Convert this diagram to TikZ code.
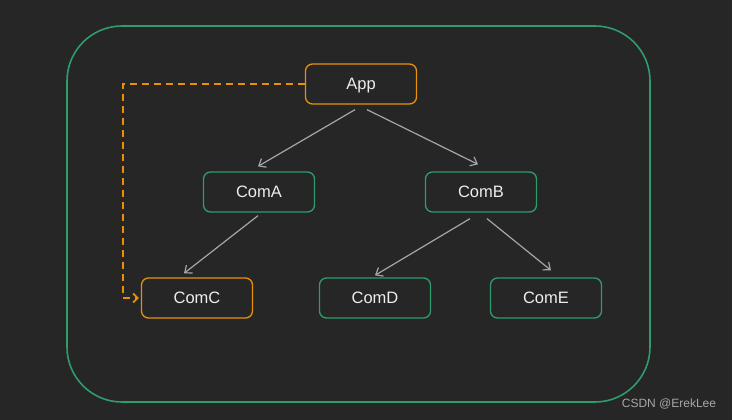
\documentclass[tikz,border=0pt]{standalone}
\usepackage{fontspec}
\setmainfont{Liberation Sans}
\usetikzlibrary{arrows.meta,calc}
\definecolor{bgc}{HTML}{262626}
\definecolor{grn}{HTML}{2E9C6C}
\definecolor{org}{HTML}{E8900A}
\definecolor{arr}{HTML}{A6A6A6}
\definecolor{txt}{HTML}{EDEDED}
\definecolor{wm}{HTML}{A8A8A8}
\tikzset{
  comp/.style={draw=grn, line width=1.3pt, rounded corners=7pt, minimum width=111pt, minimum height=40pt, inner sep=0pt, text height=11.8pt, text depth=0pt, text=txt, font=\fontsize{16.5}{18}\selectfont},
  hl/.style={comp, draw=org},
  link/.style={draw=arr, line width=1.2pt, -{Straight Barb[length=6pt,width=10pt]}},
  ctx/.style={draw=org, line width=1.8pt, dash pattern=on 7pt off 5pt, -{Straight Barb[length=4.5pt,width=9pt]}}
}
\begin{document}
\begin{tikzpicture}[x=1pt,y=-1pt]
\fill[bgc] (0,0) rectangle (732,420);
\useasboundingbox (0,0) rectangle (732,420);
\draw[grn, line width=1.6pt, rounded corners=55pt] (67,26) rectangle (650,402);
\node[hl] (App) at (361,84) {App};
\node[comp] (ComA) at (259,192) {ComA};
\node[comp] (ComB) at (481,192) {ComB};
\node[hl] (ComC) at (197,298) {ComC};
\node[comp] (ComD) at (375,298) {ComD};
\node[comp] (ComE) at (546,298) {ComE};
\draw[link] ($(App.south)+(-6,5)$) -- ($(ComA.north)+(-1,-5)$);
\draw[link] ($(App.south)+(6,5)$) -- ($(ComB.north)+(-3,-7)$);
\draw[link] ($(ComA.south)+(-1,3)$) -- ($(ComC.north)+(-13,-4)$);
\draw[link] ($(ComB.south)+(-11,6)$) -- ($(ComD.north)+(0,-2)$);
\draw[link] ($(ComB.south)+(6,6)$) -- ($(ComE.north)+(5,-7)$);
\coordinate (bendA) at (123,84);
\draw[ctx] (App.west) -- (bendA) |- ($(ComC.west)+(-2,0)$);
\node[text=wm, font=\fontsize{12}{14}\selectfont] (wmk) at (669,404) {CSDN @ErekLee};
\end{tikzpicture}
\end{document}
